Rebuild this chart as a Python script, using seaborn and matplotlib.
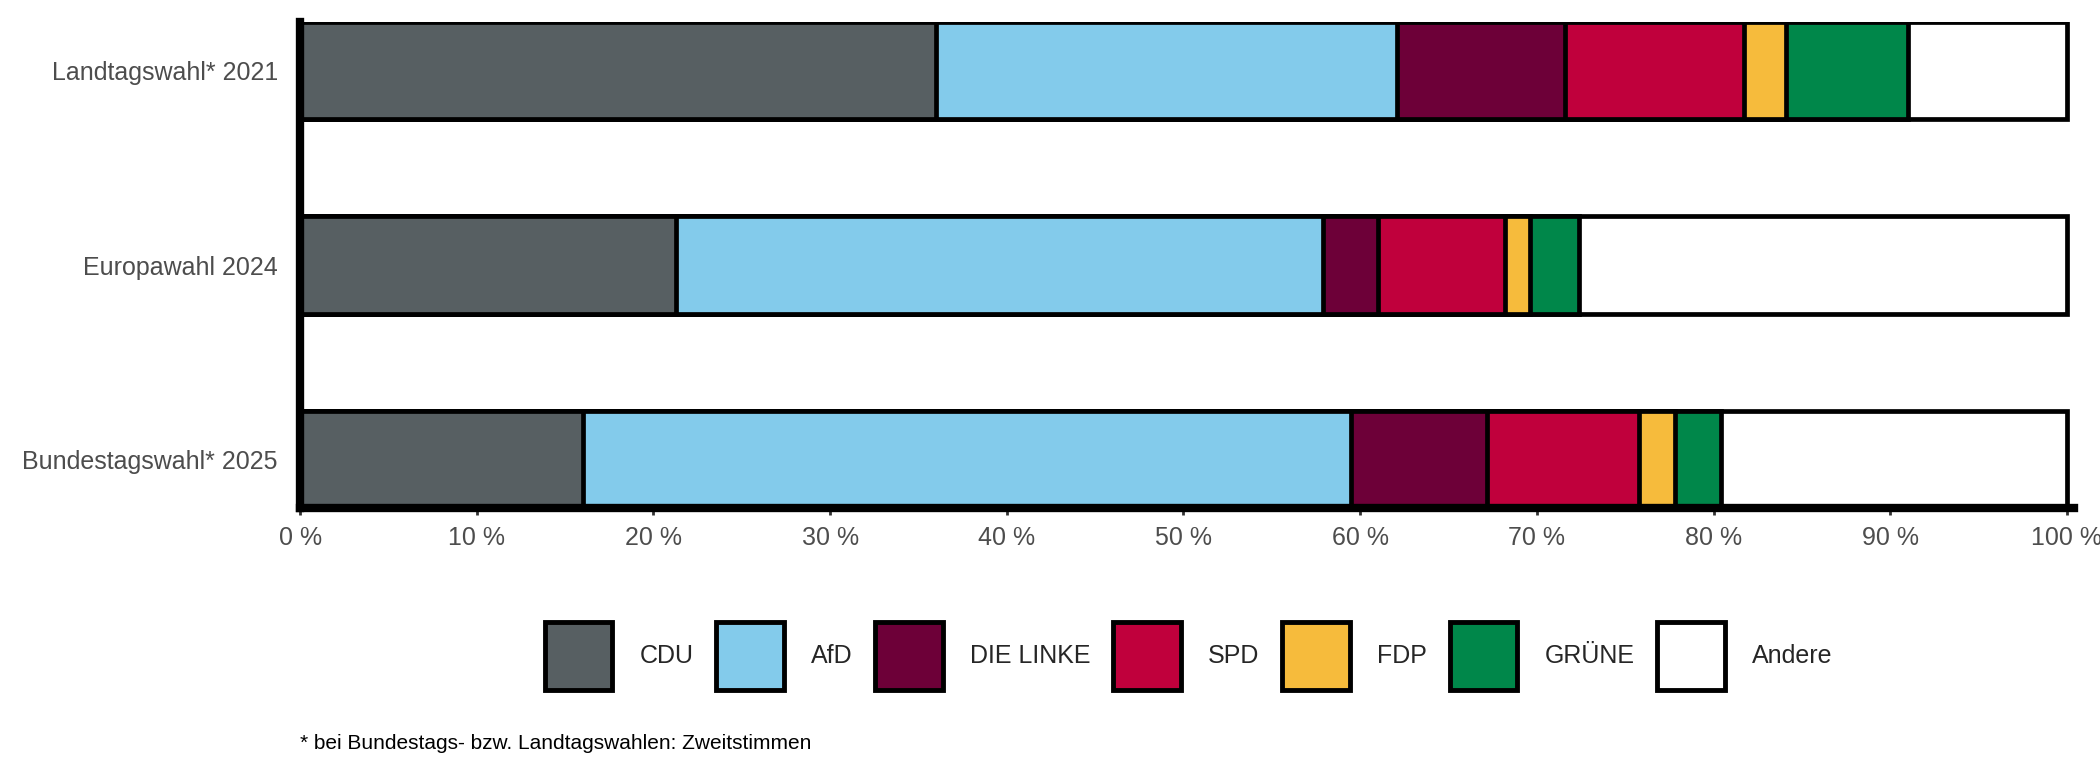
import numpy as np
import pandas as pd
import seaborn as sns
import matplotlib.pyplot as plt
from matplotlib.patches import Patch

# data: vote shares in percent
wahlen = ["Landtagswahl* 2021", "Europawahl 2024", "Bundestagswahl* 2025"]
parteien = ["CDU", "AfD", "DIE LINKE", "SPD", "FDP", "GRÜNE", "Andere"]
cdu = [36.0, 21.3, 16.0]
afd = [26.1, 36.6, 43.5]
linke = [9.5, 3.1, 7.7]
spd = [10.1, 7.2, 8.6]
fdp = [2.4, 1.4, 2.0]
gruene = [6.9, 2.8, 2.6]
andere = [9.0, 27.6, 19.6]
farben = ["#575f62", "#83cbeb", "#6d0038", "#c0003c", "#f6bb3c", "#00874a", "#ffffff"]

df = pd.DataFrame({"Wahl": wahlen, "CDU": cdu, "AfD": afd, "DIE LINKE": linke,
                   "SPD": spd, "FDP": fdp, "GRÜNE": gruene, "Andere": andere})
cum = df[parteien].cumsum(axis=1)
cum["Wahl"] = df["Wahl"]

sns.set_style("white")
plt.rcParams["font.family"] = ["Liberation Sans", "DejaVu Sans"]

fig = plt.figure(figsize=(21, 7.8), dpi=100)
ax = fig.add_axes([0.1429, 0.3487, 0.8447, 0.6231])

# stacked bars: draw cumulative totals from the outermost to the innermost
for partei, farbe in reversed(list(zip(parteien, farben))):
    sns.barplot(data=cum, x=partei, y="Wahl", orient="h", color=farbe,
                width=0.5, edgecolor="black", linewidth=3.4, saturation=1,
                ax=ax, order=wahlen)

ax.set_xlim(0, 100.4)
ax.set_ylim(2.25, -0.25)
ax.set_xticks(range(0, 101, 10))
ax.set_xticklabels([f"{v} %" for v in range(0, 101, 10)])
ax.set_xlabel("")
ax.set_ylabel("")
for s in ["top", "right"]:
    ax.spines[s].set_visible(False)
for s in ["left", "bottom"]:
    ax.spines[s].set_linewidth(6)
    ax.spines[s].set_color("black")
ax.tick_params(axis="x", length=5, width=2, color="#333333", labelsize=18,
               labelcolor="#4d4d4d", pad=8, direction="out", bottom=True)
ax.tick_params(axis="y", length=0, labelsize=18, labelcolor="#4d4d4d", pad=16)

handles = [Patch(facecolor=f, edgecolor="black", linewidth=3.5, label=p)
           for p, f in zip(parteien, farben)]
fig.legend(handles=handles, loc="center", bbox_to_anchor=(0.566, 0.159),
           ncol=7, frameon=False, fontsize=18, handlelength=2.7, handleheight=3.75,
           handletextpad=1.1, columnspacing=0.9)

fig.text(0.1429, 0.047, "* bei Bundestags- bzw. Landtagswahlen: Zweitstimmen",
         fontsize=15, color="black", ha="left", va="center")

fig.savefig("out.png", dpi=100)
